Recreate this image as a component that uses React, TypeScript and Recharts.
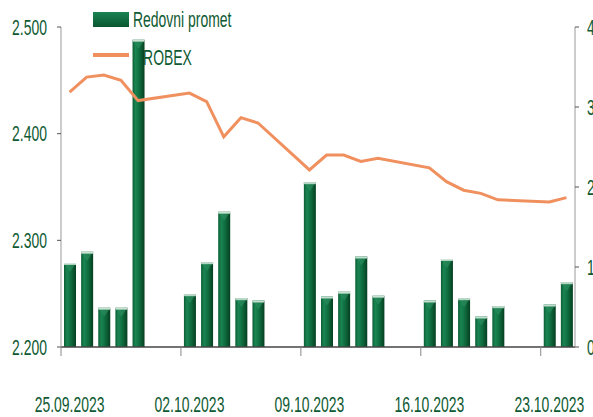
import React from "react";
import { ComposedChart, Bar, Line, XAxis, YAxis } from "recharts";

// calendar days on the axis (weekends stay empty)
const days = [
  "25.09.2023", "26.09.2023", "27.09.2023", "28.09.2023", "29.09.2023", "30.09.2023", "01.10.2023",
  "02.10.2023", "03.10.2023", "04.10.2023", "05.10.2023", "06.10.2023", "07.10.2023", "08.10.2023",
  "09.10.2023", "10.10.2023", "11.10.2023", "12.10.2023", "13.10.2023", "14.10.2023", "15.10.2023",
  "16.10.2023", "17.10.2023", "18.10.2023", "19.10.2023", "20.10.2023", "21.10.2023", "22.10.2023",
  "23.10.2023", "24.10.2023"
];

const tradingDays = [
  "25.09.2023", "26.09.2023", "27.09.2023", "28.09.2023", "29.09.2023",
  "02.10.2023", "03.10.2023", "04.10.2023", "05.10.2023", "06.10.2023",
  "09.10.2023", "10.10.2023", "11.10.2023", "12.10.2023", "13.10.2023",
  "16.10.2023", "17.10.2023", "18.10.2023", "19.10.2023", "20.10.2023",
  "23.10.2023", "24.10.2023"
];

// Redovni promet (right axis)
const promet = [
  1.05, 1.19, 0.49, 0.49, 3.84,
  0.66, 1.06, 1.69, 0.61, 0.58,
  2.06, 0.63, 0.69, 1.13, 0.64,
  0.58, 1.1, 0.61, 0.38, 0.51,
  0.53, 0.81
];

// CROBEX (left axis)
const crobex = [
  2439, 2453, 2455, 2450, 2431,
  2438, 2430, 2397, 2415, 2410,
  2366, 2380, 2380, 2374, 2377,
  2368, 2355, 2347, 2344, 2338,
  2336, 2340
];

const leftTicks = [2200, 2300, 2400, 2500];
const rightTicks = [0, 1, 2, 3, 4];
const tickDays = ["25.09.2023", "02.10.2023", "09.10.2023", "16.10.2023", "23.10.2023"];

const data = days.map((d) => {
  const i = tradingDays.indexOf(d);
  return {
    day: d,
    promet: i >= 0 ? promet[i] : null,
    crobex: i >= 0 ? crobex[i] : null
  };
});

const FONT = '"Liberation Sans", Arial, sans-serif';
const STRETCH = "scale(0.82,1.25)";
const GREEN_TEXT = "#0f5a32";
const ORANGE = "#f0905f";

const fmtThousands = (n: number) =>
  `${Math.floor(n / 1000)}.${String(n % 1000).padStart(3, "0")}`;

const YTick = (props: any) => {
  const { x, y, payload, textAnchor, formatter } = props;
  const label = formatter ? formatter(payload.value) : String(payload.value);
  return (
    <g transform={`translate(${x},${y}) ${STRETCH}`}>
      <text x={0} y={0} dy="0.36em" textAnchor={textAnchor} fill={GREEN_TEXT} fontSize={17} fontFamily={FONT}>
        {label}
      </text>
    </g>
  );
};

const XTick = (props: any) => {
  const { x, y, payload } = props;
  if (!tickDays.includes(payload.value)) return null;
  const half = payload.offset ?? 0;
  return (
    <g>
      <line x1={x - half} x2={x - half} y1={y} y2={y + 9} stroke="#888" strokeWidth={1} />
      <g transform={`translate(${x},${y + 65}) ${STRETCH}`}>
        <text x={0} y={0} textAnchor="middle" fill={GREEN_TEXT} fontSize={17} fontFamily={FONT}>
          {payload.value}
        </text>
      </g>
    </g>
  );
};

const BarShape = (props: any) => {
  const { x, y, width, height } = props;
  if (!height || height <= 0) return null;
  const bevel = Math.min(9, height / 2);
  return (
    <g>
      <rect x={x} y={y} width={width} height={height} fill="url(#barGrad)" />
      <polygon
        points={`${x},${y} ${x + width},${y} ${x + width / 2},${y + bevel}`}
        fill="#2a8c5c"
        opacity={0.7}
      />
      <rect x={x} y={y} width={width} height={2} fill="url(#capGrad)" />
    </g>
  );
};

const LegendBox = () => (
  <svg
    width={320}
    height={80}
    style={{ position: "absolute", left: 0, top: 0, zIndex: -1 }}
  >
    <defs>
      <linearGradient id="legGrad" x1="0" y1="0" x2="0" y2="1">
        <stop offset="0%" stopColor="#1b8453" />
        <stop offset="100%" stopColor="#0b5630" />
      </linearGradient>
    </defs>
    <rect x={93} y={12} width={36} height={15} fill="url(#legGrad)" />
    <g transform={`translate(133,27) ${STRETCH}`}>
      <text x={0} y={0} fill={GREEN_TEXT} fontSize={17} fontFamily={FONT}>
        Redovni promet
      </text>
    </g>
    <line x1={93} x2={129} y1={55} y2={55} stroke={ORANGE} strokeWidth={4} />
    <g transform={`translate(133,65) ${STRETCH}`}>
      <text x={0} y={0} fill={GREEN_TEXT} fontSize={17} fontFamily={FONT}>
        CROBEX
      </text>
    </g>
  </svg>
);

export default function App() {
  return (
    <div
      style={{
        position: "absolute",
        left: 0,
        top: 0,
        width: 593,
        height: 417,
        zIndex: 0,
        background: "#fff",
        overflow: "hidden"
      }}
    >
      <LegendBox />
      <ComposedChart
        width={593}
        height={417}
        data={data}
        margin={{ top: 27, right: 0, bottom: 0, left: 0 }}
      >
        <defs>
          <linearGradient id="barGrad" x1="0" y1="0" x2="1" y2="0">
            <stop offset="0%" stopColor="#0c5e35" />
            <stop offset="25%" stopColor="#1a8552" />
            <stop offset="60%" stopColor="#0e6a3d" />
            <stop offset="100%" stopColor="#063f21" />
          </linearGradient>
          <linearGradient id="capGrad" x1="0" y1="0" x2="0" y2="1">
            <stop offset="0%" stopColor="#e4efe8" />
            <stop offset="100%" stopColor="#9cc8b0" />
          </linearGradient>
        </defs>
        <XAxis
          dataKey="day"
          height={70}
          interval={0}
          tickSize={0}
          tickMargin={0}
          tickLine={false}
          axisLine={{ stroke: "#444", strokeWidth: 1.5 }}
          tick={<XTick />}
        />
        <YAxis
          yAxisId="left"
          orientation="left"
          width={61}
          domain={[2200, 2500]}
          ticks={leftTicks}
          tickSize={4}
          tickMargin={10}
          tickLine={{ stroke: "#555" }}
          axisLine={{ stroke: "#999" }}
          tick={<YTick formatter={fmtThousands} />}
          allowDataOverflow
        />
        <YAxis
          yAxisId="right"
          orientation="right"
          width={18}
          domain={[0, 4]}
          ticks={rightTicks}
          tickSize={4}
          tickMargin={8}
          tickLine={{ stroke: "#555" }}
          axisLine={{ stroke: "#999" }}
          tick={<YTick />}
          allowDataOverflow
        />
        <Bar
          yAxisId="right"
          dataKey="promet"
          barSize={12}
          shape={<BarShape />}
          isAnimationActive={false}
        />
        <Line
          yAxisId="left"
          dataKey="crobex"
          type="linear"
          stroke={ORANGE}
          strokeWidth={3}
          dot={false}
          activeDot={false}
          connectNulls
          isAnimationActive={false}
        />
      </ComposedChart>
    </div>
  );
}
